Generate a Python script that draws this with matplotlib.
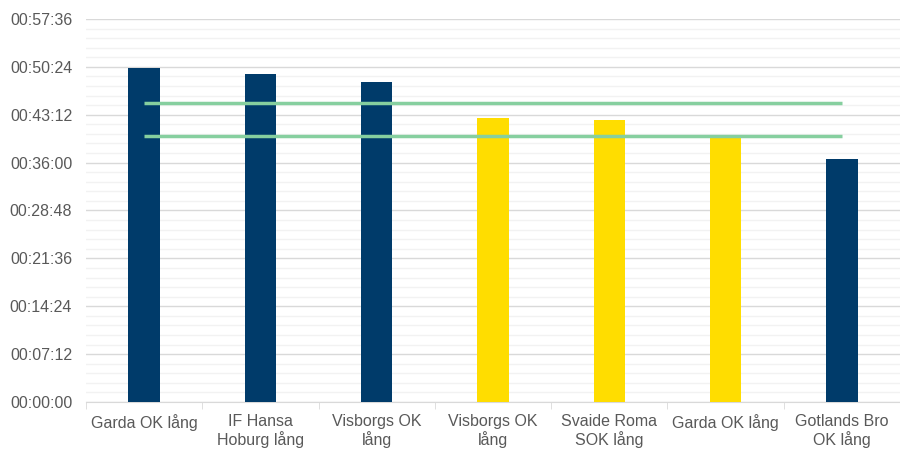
import matplotlib.pyplot as plt
from matplotlib.ticker import MultipleLocator, FuncFormatter, FixedLocator

plt.rcParams['font.family'] = ['Liberation Sans', 'DejaVu Sans']

clubs = ["Garda OK lång", "IF Hansa\nHoburg lång", "Visborgs OK\nlång", "Visborgs OK\nlång",
         "Svaide Roma\nSOK lång", "Garda OK lång", "Gotlands Bro\nOK lång"]
# times in seconds
times = [3014, 2960, 2888, 2563, 2545, 2391, 2193]
colors = ["#003B6A", "#003B6A", "#003B6A", "#FFDD00", "#FFDD00", "#FFDD00", "#003B6A"]
upper_line = [2700] * 7
lower_line = [2400] * 7


def hms(v, pos):
    v = int(round(v))
    return "%02d:%02d:%02d" % (v // 3600, (v % 3600) // 60, v % 60)


fig = plt.figure(figsize=(9, 4.49), dpi=100)
ax = fig.add_axes([0.0956, 0.1047, 0.9044, 0.853])

x = list(range(len(clubs)))
ax.bar(x, times, width=0.27, color=colors, zorder=3)
ax.plot(x, upper_line, color="#86CF9F", lw=2.5, zorder=4, solid_capstyle="butt")
ax.plot(x, lower_line, color="#86CF9F", lw=2.5, zorder=4, solid_capstyle="butt")

ax.set_xlim(-0.5, len(clubs) - 0.5)
ax.set_ylim(0, 3456)
ax.yaxis.set_major_locator(MultipleLocator(432))
ax.yaxis.set_minor_locator(MultipleLocator(86.4))
ax.yaxis.set_major_formatter(FuncFormatter(hms))
ax.grid(axis="y", which="major", color="#D9D9D9", lw=1, zorder=0)
ax.grid(axis="y", which="minor", color="#F2F2F2", lw=1, zorder=0)

ax.set_xticks(x)
ax.set_xticklabels(clubs, linespacing=1.1)
ax.xaxis.set_minor_locator(FixedLocator([i - 0.5 for i in range(len(clubs) + 1)]))
ax.tick_params(axis="x", which="major", length=0, pad=9, labelsize=11.5, labelcolor="#595959")
ax.tick_params(axis="x", which="minor", length=5, color="#D9D9D9")
ax.tick_params(axis="y", which="both", length=0, pad=10, labelsize=11.5, labelcolor="#595959")

for s in ["top", "right", "left"]:
    ax.spines[s].set_visible(False)
ax.spines["bottom"].set_color("#D9D9D9")

fig.savefig("out.png", dpi=100)
